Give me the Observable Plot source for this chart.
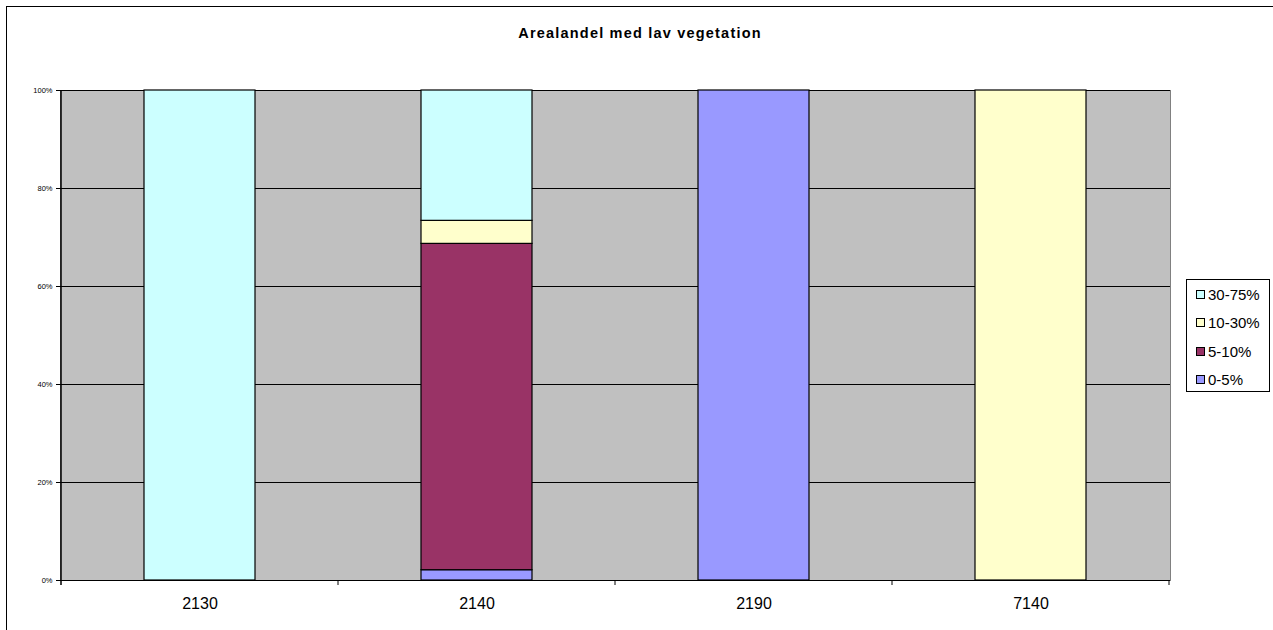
<!DOCTYPE html>
<html>
<head>
<meta charset="utf-8">
<script src="https://cdn.jsdelivr.net/npm/d3@7"></script>
<script src="https://cdn.jsdelivr.net/npm/@observablehq/plot@0.6"></script>
<style>
  body { margin: 0; background: #fff; font-family: "Liberation Sans", Arial, sans-serif; }
  #wrap { position: relative; width: 1273px; height: 630px; overflow: hidden; }
  #border { position: absolute; left: 6px; top: 6px; width: 1400px; height: 800px; border: 1px solid #000; }
  #title { position: absolute; left: 0; width: 1280px; top: 25px; text-align: center; font-weight: bold; font-size: 14.5px; letter-spacing: 1.2px; color: #000; }
  #chart { position: absolute; left: 0; top: 0; }
  #legend { position: absolute; left: 1186px; top: 279px; width: 82px; height: 111px; border: 1px solid #000; background: #fff; }
  .item { position: absolute; left: 9px; height: 18px; font-size: 15px; line-height: 18px; color: #000; white-space: nowrap; }
  .sw { display: inline-block; width: 7px; height: 7px; border: 1px solid #000; margin-right: 3px; vertical-align: 1px; }
</style>
</head>
<body>
<div id="wrap">
  <div id="border"></div>
  <div id="chart"></div>
  <div id="title"></div>
  <div id="legend"></div>
</div>
<script>
const titleText = "Arealandel med lav vegetation";
const categories = ["2130", "2140", "2190", "7140"];
const seriesNames = ["0-5%", "5-10%", "10-30%", "30-75%"];
const seriesColors = ["#9999FF", "#993366", "#FFFFCC", "#CCFFFF"];
const s0_5   = [0, 2.1, 100, 0];
const s5_10  = [0, 66.6, 0, 0];
const s10_30 = [0, 4.7, 0, 100];
const s30_75 = [100, 26.6, 0, 0];
const yTicks = [0, 20, 40, 60, 80, 100];

const seriesValues = [s0_5, s5_10, s10_30, s30_75];
const data = [];
categories.forEach((c, i) => {
  seriesNames.forEach((s, j) => {
    const v = seriesValues[j][i];
    if (v > 0) data.push({cat: c, series: s, value: v});
  });
});

const chart = Plot.plot({
  width: 1273,
  height: 630,
  marginLeft: 60,
  marginRight: 103,
  marginTop: 90,
  marginBottom: 50,
  style: {background: "transparent", fontFamily: "'Liberation Sans', Arial, sans-serif", color: "#000", overflow: "visible"},
  x: {domain: categories, paddingInner: 0.6, paddingOuter: 0.3, label: null},
  y: {domain: [0, 100], label: null},
  color: {domain: seriesNames, range: seriesColors},
  marks: [
    Plot.frame({fill: "#C0C0C0", stroke: "#808080"}),
    Plot.ruleY(yTicks.filter(d => d > 0), {stroke: "#000", strokeWidth: 1}),
    Plot.barY(data, {x: "cat", y: "value", fill: "series", stroke: "#000", strokeWidth: 1.2}),
    Plot.ruleY([0], {stroke: "#000", strokeWidth: 1.2}),
    Plot.axisY({ticks: yTicks, tickSize: 4, tickPadding: 4, tickFormat: d => d + "%", fontSize: 7.5, stroke: "#000", label: null}),
    Plot.axisX({tickSize: 0, tickPadding: 17, fontSize: 16, label: null})
  ]
});
document.getElementById("chart").appendChild(chart);

// left axis line and category boundary ticks from the scales
const xs = chart.scale("x"), ys = chart.scale("y");
const svg = d3.select(chart);
const step = xs.step, bw = xs.bandwidth;
const bounds = categories.map(c => xs.apply(c) + bw / 2 - step / 2);
bounds.push(bounds[bounds.length - 1] + step);
const y0 = ys.apply(0), y1 = ys.apply(100);
svg.append("line").attr("x1", bounds[0]).attr("x2", bounds[0]).attr("y1", y1).attr("y2", y0 + 5)
  .attr("stroke", "#000").attr("stroke-width", 1.5);
bounds.slice(1).forEach(b => {
  svg.append("line").attr("x1", b).attr("x2", b).attr("y1", y0).attr("y2", y0 + 5).attr("stroke", "#000");
});

document.getElementById("title").textContent = titleText;

const legend = document.getElementById("legend");
const order = [3, 2, 1, 0];
const rowTops = [6, 34, 63, 91];
order.forEach((j, k) => {
  const it = document.createElement("div");
  it.className = "item";
  it.style.top = rowTops[k] + "px";
  const sw = document.createElement("span");
  sw.className = "sw";
  sw.style.background = seriesColors[j];
  it.appendChild(sw);
  it.appendChild(document.createTextNode(seriesNames[j]));
  legend.appendChild(it);
});
</script>
</body>
</html>
